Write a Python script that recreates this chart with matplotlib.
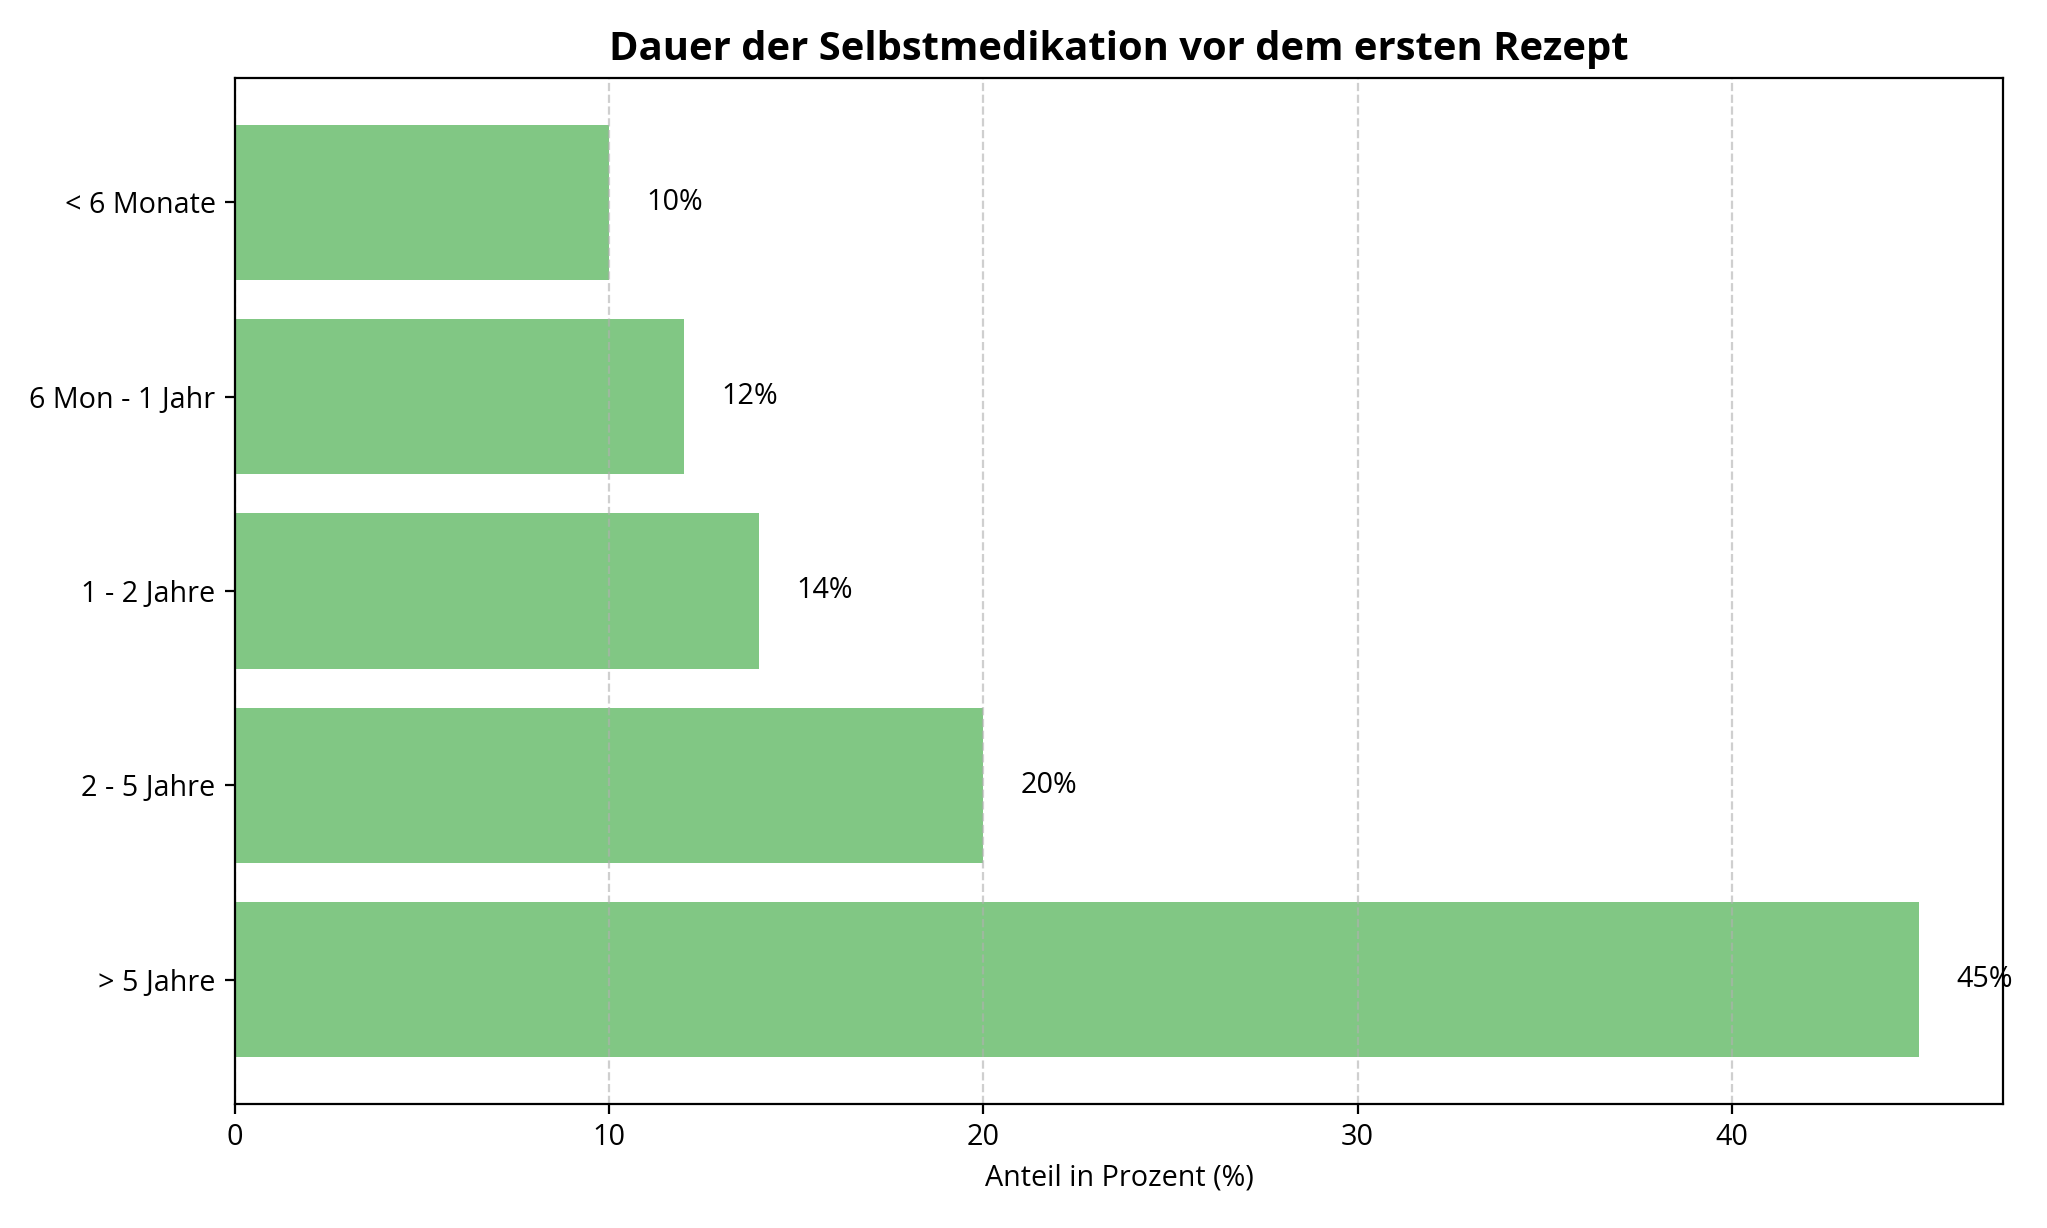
import matplotlib
matplotlib.use("Agg")
import matplotlib.pyplot as plt

plt.rcParams['font.family'] = ['Open Sans', 'DejaVu Sans']

categories = ["< 6 Monate", "6 Mon - 1 Jahr", "1 - 2 Jahre", "2 - 5 Jahre", "> 5 Jahre"]
values = [10, 12, 14, 20, 45]
title = "Dauer der Selbstmedikation vor dem ersten Rezept"
xlabel = "Anteil in Prozent (%)"

fig = plt.figure(figsize=(10.235, 6.14), dpi=200)
ax = fig.add_axes([235/2047, 1-1104/1228, (2003-235)/2047, (1104-78)/1228])

bars = ax.barh(categories, values, color="#81c784", height=0.8)
ax.invert_yaxis()
for cat, v in zip(categories, values):
    ax.text(v + 1, cat, f"{v}%", va="center", ha="left", fontsize=10.35)

ax.set_xlim(0, max(values) * 1.05)
ax.set_title(title, fontsize=14.4, fontweight="bold", pad=6.5)
ax.set_xlabel(xlabel, fontsize=10.35)
ax.grid(axis="x", linestyle="--", alpha=0.6)
ax.tick_params(labelsize=10.35)

fig.savefig("out.png", dpi=200)
